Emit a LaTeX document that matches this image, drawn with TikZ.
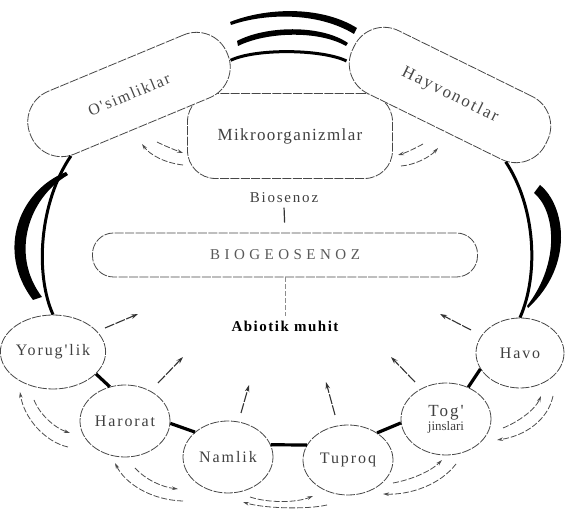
\documentclass[tikz,border=0pt]{standalone}
\usepackage{fontspec}
\setmainfont{Liberation Serif}
\newfontfamily\lblA[LetterSpace=8]{Liberation Serif}
\newfontfamily\lblB[LetterSpace=12]{Liberation Serif}
\newfontfamily\lblC[LetterSpace=30]{Liberation Serif}
\newfontfamily\lblD[LetterSpace=10]{Liberation Serif}
\usetikzlibrary{shapes.geometric,arrows.meta,calc}
\begin{document}
\begin{tikzpicture}[x=1pt,y=-1pt,
  outl/.style={draw=black!72, line width=0.8pt, dash pattern=on 9pt off 1.4pt, fill=white},
  circ/.style={outl, ellipse, minimum width=90pt, minimum height=72pt, inner sep=0pt,
    font=\lblB\fontsize{16}{17}\selectfont, text=black!75},
  bigbox/.style={outl, rectangle, rounded corners=33pt, minimum width=213pt, minimum height=68pt,
    inner sep=0pt, text=black!72},
  ring/.style={line width=3pt, black},
  link/.style={line width=3.2pt, black},
  brush/.style={fill=black, draw=none},
  inarr/.style={line width=1.1pt, black!80, dash pattern=on 10pt off 1.5pt, -{Stealth[length=7pt,width=4.5pt]}},
  darr/.style={line width=0.8pt, black!70, dash pattern=on 6pt off 2pt, -{Stealth[length=6pt,width=3.5pt]}}
]
\useasboundingbox (0,0) rectangle (566,510);

% Mikroorganizmlar (partly hidden)
\node[outl, rectangle, rounded corners=28pt, minimum width=205pt, minimum height=85pt, inner sep=0pt,
  font=\lblA\fontsize{17}{18}\selectfont, text=black!75] (mi) at (290,136) {Mikroorganizmlar};

% big top nodes
\node[bigbox, rotate=22.6, font=\lblD\fontsize{16}{17}\selectfont] (os) at (129,94.5) {O'simliklar};
\node[bigbox, rotate=-26.2, minimum width=215pt, minimum height=70pt,
  font=\lblB\fontsize{17}{18}\selectfont] (hv) at (450,95) {Hayvonotlar};

% abiotic nodes
\node[circ, minimum width=94pt, minimum height=74pt] (yo) at (53,352) {Yorug'lik};
\node[circ] (ha) at (125,421) {Harorat};
\node[circ] (na) at (228,457) {Namlik};
\node[circ, minimum height=70pt] (tu) at (348,460) {Tuproq};
\node[circ, align=center] (tg) at (446,419) {{\fontsize{17}{18}\selectfont Tog'}\\[-3pt]{\rmfamily\fontsize{13}{14}\selectfont jinslari}};
\node[circ, minimum width=88pt, minimum height=70pt] (hvo) at (520,353) {Havo};

% centre
\node[font=\lblB\fontsize{15}{16}\selectfont, text=black!75] (bios) at (284,198) {Biosenoz};
\node[outl, rectangle, rounded corners=21pt, minimum width=385pt, minimum height=44pt, inner sep=0pt,
  font=\lblC\fontsize{15}{16}\selectfont, text=black!65] (bio) at (285,255) {BIOGEOSENOZ};
\node[font=\lblD\bfseries\fontsize{15}{16}\selectfont] (ab) at (285,326) {Abiotik muhit};

\draw[line width=1.2pt, black!80, shorten >=10pt, shorten <=1pt] (bios.south) -- (bio.north);
\draw[line width=0.8pt, black!45, dash pattern=on 5pt off 2pt, shorten >=1pt] (bio.south) -- (ab.north);

% ring
\draw[ring] (os.-4) .. controls +(25,-12) and +(-25,-12) .. (hv.188);
\draw[ring] (hv.-24) .. controls +(30,45) and +(19,-43) .. (hvo.north);
\draw[ring] (os.204) .. controls +(-32,47) and +(-18,-40) .. (yo.north);

% chain links
\draw[link] (yo.-27) -- (ha.114);
\draw[link] (ha.-3) -- (na.143);
\draw[link] (na.16) -- (tu.160);
\draw[link] (tu.43) -- (tg.185);
\draw[link] (tg.55) -- (hvo.202);

% brush strokes
\fill[brush] (230,22) .. controls (265,8) and (320,5) .. (357,28) -- (354,34)
  .. controls (318,12) and (266,13) .. (231,25) -- cycle;
\fill[brush] (237,41) .. controls (265,26) and (320,24) .. (348,43) -- (346,46)
  .. controls (318,30) and (266,32) .. (238,46) -- cycle;
\fill[brush] (66,172) .. controls (20,190) and (-5,250) .. (33,300) -- (42,297)
  .. controls (10,255) and (28,198) .. (68,175) -- cycle;
\fill[brush] (540,185) .. controls (565,205) and (575,265) .. (528,308) -- (527,306)
  .. controls (561,262) and (555,210) .. (534,193) -- cycle;

% inward arrows
\coordinate (i1s) at (105,328); \coordinate (i1e) at (138,314);
\coordinate (i2s) at (158,383); \coordinate (i2e) at (183,357);
\coordinate (i3s) at (241,413); \coordinate (i3e) at (249,385);
\coordinate (i4s) at (335,415); \coordinate (i4e) at (326,382);
\coordinate (i5s) at (415,382); \coordinate (i5e) at (391,357);
\coordinate (i6s) at (471,330); \coordinate (i6e) at (440,314);
\foreach \i in {1,...,6} \draw[inarr] (i\i s) -- (i\i e);

% dashed paired arcs
\coordinate (d1s) at (68,447);  \coordinate (d1e) at (20,392);
\coordinate (d2s) at (34,400);  \coordinate (d2e) at (70,433);
\coordinate (d3s) at (183,501); \coordinate (d3e) at (115,463);
\coordinate (d4s) at (135,468); \coordinate (d4e) at (178,489);
\coordinate (d5s) at (250,497); \coordinate (d5e) at (313,496);
\coordinate (d6s) at (327,505); \coordinate (d6e) at (243,502);
\coordinate (d7s) at (456,464); \coordinate (d7e) at (383,494);
\coordinate (d8s) at (393,483); \coordinate (d8e) at (442,460);
\coordinate (d9s) at (503,428); \coordinate (d9e) at (541,396);
\coordinate (d10s) at (553,396); \coordinate (d10e) at (497,440);
\coordinate (d11s) at (183,165); \coordinate (d11e) at (142,144);
\coordinate (d12s) at (157,142); \coordinate (d12e) at (183,153);
\coordinate (d13s) at (423,144); \coordinate (d13e) at (398,155);
\coordinate (d14s) at (401,166); \coordinate (d14e) at (438,148);

\draw[darr] (d1s) .. controls +(-23,-5) and +(4,26) .. (d1e);
\draw[darr] (d2s) .. controls +(6,15) and +(-15,-5) .. (d2e);
\draw[darr] (d3s) .. controls +(-33,-1) and +(10,20) .. (d3e);
\draw[darr] (d4s) .. controls +(11,12) and +(-16,-2) .. (d4e);
\draw[darr] (d5s) .. controls +(18,6) and +(-17,7) .. (d5e);
\draw[darr] (d6s) .. controls +(-22,5) and +(19,6) .. (d6e);
\draw[darr] (d7s) .. controls +(-16,21) and +(27,1) .. (d7e);
\draw[darr] (d8s) .. controls +(17,-3) and +(-12,12) .. (d8e);
\draw[darr] (d9s) .. controls +(15,-6) and +(-6,14) .. (d9e);
\draw[darr] (d10s) .. controls +(-5,24) and +(28,-4) .. (d10e);
\draw[darr] (d11s) .. controls +(-18,-2) and +(8,11) .. (d11e);
\draw[darr] (d12s) .. controls +(8,4) and +(-8,-3) .. (d12e);
\draw[darr] (d13s) .. controls +(-9,5) and +(7,-2) .. (d13e);
\draw[darr] (d14s) .. controls +(14,-1) and +(-8,9) .. (d14e);
\end{tikzpicture}
\end{document}
